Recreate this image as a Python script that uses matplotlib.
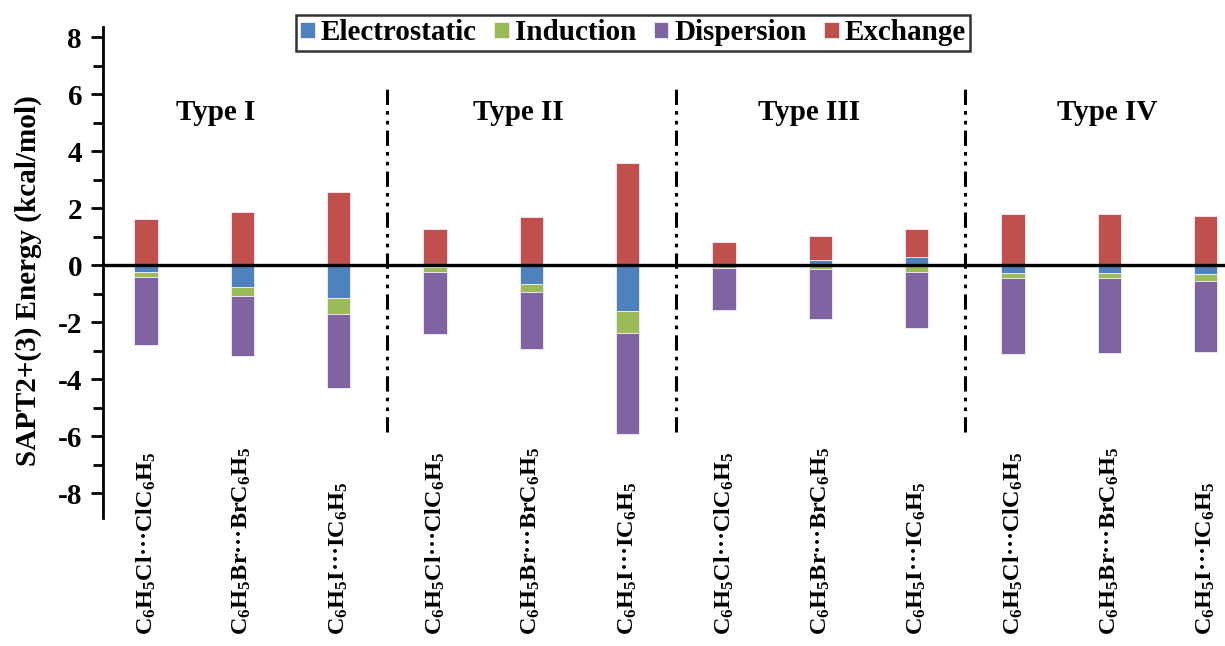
import numpy as np
import matplotlib
matplotlib.use("Agg")
import matplotlib.pyplot as plt

plt.rcParams['font.family'] = ['Liberation Serif', 'DejaVu Serif']
plt.rcParams['font.weight'] = 'bold'
plt.rcParams['axes.unicode_minus'] = False
plt.rcParams['mathtext.fontset'] = 'custom'
plt.rcParams['mathtext.rm'] = 'Liberation Serif:bold'
plt.rcParams['mathtext.it'] = 'Liberation Serif:bold'
plt.rcParams['mathtext.bf'] = 'Liberation Serif:bold'
plt.rcParams['mathtext.default'] = 'rm'

# data (kcal/mol)
dimers = ["C$_6$H$_5$Cl\u00b7\u00b7\u00b7ClC$_6$H$_5$",
          "C$_6$H$_5$Br\u00b7\u00b7\u00b7BrC$_6$H$_5$",
          "C$_6$H$_5$I\u00b7\u00b7\u00b7IC$_6$H$_5$"] * 4
types = ["Type I", "Type II", "Type III", "Type IV"]
electrostatic = [-0.23, -0.76, -1.15, -0.07, -0.68, -1.61, -0.02, 0.17, 0.29, -0.29, -0.29, -0.33]
induction = [-0.18, -0.32, -0.55, -0.16, -0.26, -0.79, -0.08, -0.15, -0.23, -0.18, -0.17, -0.22]
dispersion = [-2.40, -2.10, -2.63, -2.19, -2.02, -3.54, -1.46, -1.76, -1.99, -2.65, -2.62, -2.49]
exchange = [1.61, 1.87, 2.57, 1.25, 1.70, 3.59, 0.82, 0.86, 0.96, 1.79, 1.79, 1.73]

series = [("Electrostatic", electrostatic, "#4F81BD"),
          ("Induction", induction, "#9BBB59"),
          ("Dispersion", dispersion, "#8064A2"),
          ("Exchange", exchange, "#C0504D")]

fig = plt.figure(figsize=(12.25, 6.46), dpi=100)
ax = fig.add_axes([0.084, 0.198, 0.916, 0.760])

x = np.arange(len(dimers))
pos_base = np.zeros(len(x))
neg_base = np.zeros(len(x))
handles = []
for name, vals, col in series:
    v = np.array(vals)
    bottom = np.where(v >= 0, pos_base, neg_base)
    b = ax.bar(x, v, width=0.24, bottom=bottom, color=col,
               edgecolor="#f2eef6", linewidth=0.6, label=name, zorder=2)
    handles.append(b)
    pos_base += np.where(v >= 0, v, 0)
    neg_base += np.where(v < 0, v, 0)

# zero line
ax.axhline(0, color="black", lw=2.4, zorder=3)

# group separators
for s in [2.5, 5.5, 8.5]:
    ax.plot([s, s], [-5.85, 6.25], color="black", lw=2.2,
            dashes=[5, 2, 1.2, 2, 1.2, 2], zorder=1)

# group titles
type_x = [0.72, 3.87, 6.88, 9.98]
for tx, t in zip(type_x, types):
    ax.text(tx, 5.35, t, ha="center", va="center", fontsize=21, fontweight="bold")

# category labels
for xi, lab in zip(x, dimers):
    ax.text(xi, -13.0, lab, rotation=90, ha="center", va="bottom",
            fontsize=17.5, fontweight="bold", clip_on=False)

ax.set_xlim(-0.447, 11.2)
ax.set_ylim(-8.88, 8.35)
ax.set_xticks([])
ax.set_yticks(np.arange(-8, 9, 2))
ax.set_yticks(np.arange(-7, 9, 2), minor=True)
ax.tick_params(axis="y", which="major", length=9, width=2, labelsize=21, pad=6)
ax.tick_params(axis="y", which="minor", length=7, width=2)
for lab in ax.get_yticklabels():
    lab.set_fontweight("bold")
for sp in ["top", "right", "bottom"]:
    ax.spines[sp].set_visible(False)
ax.spines["left"].set_linewidth(2)
ax.set_ylabel("SAPT2+(3) Energy (kcal/mol)", fontsize=21, fontweight="bold")
ax.yaxis.set_label_coords(-0.054, 0.483)

leg = fig.legend(handles=handles, loc="upper center", bbox_to_anchor=(633 / 1225, 1 - 15 / 646),
                 ncol=4, frameon=True, fancybox=False, edgecolor="black",
                 prop={"size": 21, "weight": "bold"}, handlelength=0.5, handleheight=0.5,
                 handletextpad=0.2, columnspacing=0.6, borderpad=0.15, borderaxespad=0)
leg.get_frame().set_linewidth(1.8)

fig.savefig("out.png", dpi=100)
